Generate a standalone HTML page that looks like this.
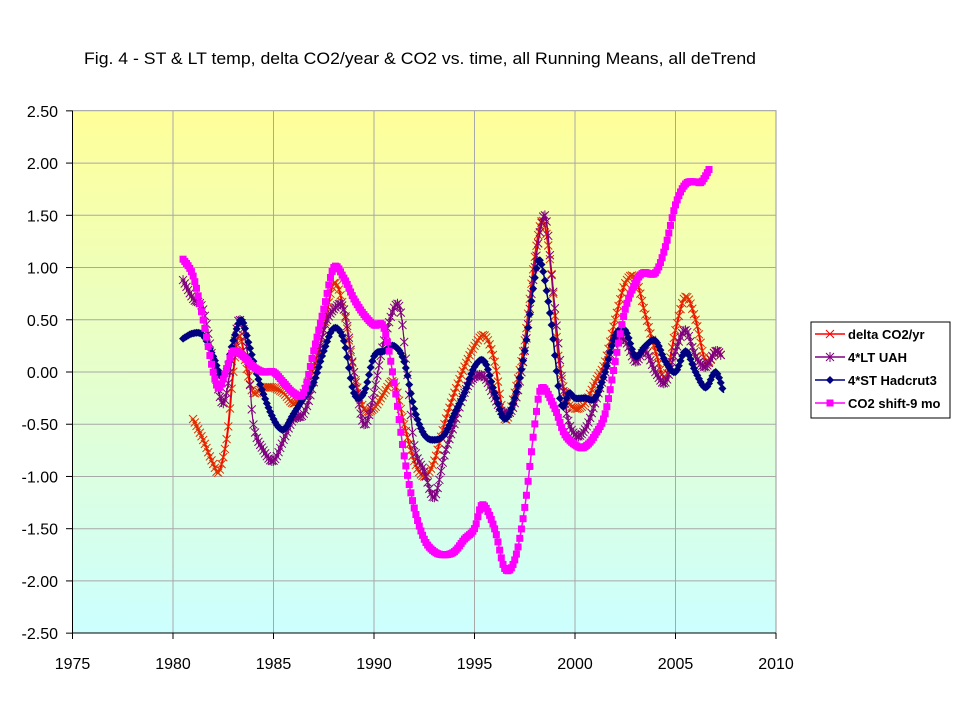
<!DOCTYPE html>
<html><head><meta charset="utf-8"><style>
body{margin:0;background:#fff;}
svg{display:block;font-family:"Liberation Sans",Arial,sans-serif;}
</style></head><body>
<svg id="chart" width="960" height="720" viewBox="0 0 960 720">
<defs><linearGradient id="bg" x1="0" y1="0" x2="0" y2="1"><stop offset="0" stop-color="#ffff99"/><stop offset="1" stop-color="#ccffff"/></linearGradient></defs>
<text x="420" y="64" text-anchor="middle" font-size="17" textLength="672" lengthAdjust="spacingAndGlyphs">Fig. 4 - ST &amp; LT temp, delta CO2/year &amp; CO2 vs. time, all Running Means, all deTrend</text>
<rect x="72.5" y="110.7" width="703.5" height="522.3" fill="url(#bg)" stroke="#999"/>
<g id="grid"></g><g id="axes"></g><g id="series"></g>
<g>
<rect x="811" y="322" width="139" height="96" fill="#fff" stroke="#000"/>
<g id="legend-items"></g>
</g>
</svg>
<script>
const yTicks=[2.5,2,1.5,1,0.5,0,-0.5,-1,-1.5,-2,-2.5];
const xTicks=[1975,1980,1985,1990,1995,2000,2005,2010];
const co2Years=[1980.5,1981,1981.5,1982,1982.3,1982.7,1983,1983.5,1984,1984.5,1985,1985.5,1986,1986.5,1987,1987.5,1988,1988.5,1989,1989.5,1990,1990.5,1991,1991.5,1992,1992.5,1993,1993.5,1994,1994.5,1995,1995.4,1996,1996.5,1997,1997.5,1998,1998.35,1999,1999.5,2000.2,2000.6,2001,2001.5,2002,2002.5,2003,2003.4,2004,2004.5,2005,2005.5,2006,2006.3,2006.7];
const co2Vals=[1.08,0.92,0.5,0.0,-0.15,0.05,0.2,0.15,0.05,0.0,0.0,-0.1,-0.2,-0.2,0.2,0.6,1.0,0.9,0.7,0.55,0.45,0.42,-0.1,-0.8,-1.3,-1.6,-1.72,-1.75,-1.72,-1.6,-1.5,-1.27,-1.5,-1.88,-1.8,-1.3,-0.5,-0.15,-0.35,-0.6,-0.72,-0.7,-0.6,-0.4,0.1,0.6,0.85,0.95,0.95,1.2,1.6,1.8,1.82,1.82,1.95];
const dco2Years=[1981,1981.5,1982,1982.3,1982.7,1983,1983.3,1983.7,1984,1984.5,1985,1985.5,1986,1986.5,1987,1987.5,1988,1988.5,1989,1989.5,1990,1990.5,1991,1991.5,1992,1992.5,1993,1993.5,1994,1994.5,1995,1995.5,1996,1996.5,1997,1997.5,1998,1998.4,1998.8,1999.2,1999.6,2000,2000.5,2001,2001.5,2002,2002.5,2003,2003.5,2004,2004.5,2005,2005.5,2006,2006.5,2007,2007.3];
const dco2Vals=[-0.45,-0.65,-0.88,-0.95,-0.6,0.0,0.35,0.0,-0.2,-0.15,-0.15,-0.2,-0.3,-0.2,0.05,0.4,0.85,0.6,0.0,-0.35,-0.35,-0.2,-0.1,-0.5,-0.85,-1.0,-0.85,-0.5,-0.2,0.05,0.25,0.35,0.1,-0.45,-0.2,0.3,1.1,1.45,1.0,0.1,-0.25,-0.35,-0.3,-0.1,0.1,0.5,0.85,0.9,0.55,0.2,-0.05,0.4,0.72,0.5,0.1,0.2,0.15];
const uahYears=[1980.5,1981,1981.5,1982,1982.5,1983,1983.3,1983.7,1984,1984.5,1985,1985.5,1986,1986.5,1987,1987.5,1988,1988.5,1989,1989.5,1990,1990.5,1991.2,1991.6,1992,1992.5,1993,1993.5,1994,1994.5,1995,1995.5,1996,1996.5,1997,1997.5,1998,1998.5,1998.9,1999.5,2000,2000.5,2001,2001.5,2002,2002.5,2003,2003.5,2004,2004.5,2005,2005.5,2006,2006.5,2007,2007.3];
const uahVals=[0.88,0.7,0.6,0.1,-0.3,0.2,0.5,0.2,-0.5,-0.75,-0.85,-0.65,-0.45,-0.4,-0.1,0.4,0.6,0.6,0.0,-0.5,-0.2,0.3,0.65,0.1,-0.7,-0.95,-1.2,-0.8,-0.5,-0.2,-0.05,-0.05,-0.25,-0.4,-0.3,0.2,1.0,1.5,0.8,-0.3,-0.6,-0.55,-0.3,0.0,0.3,0.3,0.1,0.2,0.0,-0.1,0.2,0.4,0.15,0.05,0.2,0.15];
const hadYears=[1980.5,1981,1981.5,1982,1982.5,1983,1983.4,1983.8,1984.3,1985,1985.5,1986,1986.5,1987,1987.5,1988,1988.5,1989,1989.5,1990,1990.5,1991,1991.5,1992,1992.5,1993,1993.5,1994,1994.5,1995,1995.5,1996,1996.5,1997,1997.5,1998,1998.3,1998.8,1999.3,1999.7,2000,2000.5,2001,2001.5,2002,2002.5,2003,2003.5,2004,2004.5,2005,2005.5,2006,2006.5,2007,2007.4];
const hadVals=[0.32,0.37,0.35,0.15,-0.05,0.3,0.5,0.25,-0.1,-0.45,-0.55,-0.4,-0.25,-0.1,0.2,0.42,0.3,-0.2,-0.2,0.15,0.2,0.25,0.1,-0.35,-0.6,-0.65,-0.6,-0.4,-0.2,0.05,0.1,-0.2,-0.45,-0.25,0.2,0.9,1.05,0.5,-0.3,-0.2,-0.25,-0.25,-0.25,0.0,0.35,0.4,0.15,0.25,0.3,0.1,0.0,0.2,0.0,-0.15,0.0,-0.2];

const X=y=>72.5+(y-1975)*20.1;
const Y=v=>372-v*104.46;
const NS="http://www.w3.org/2000/svg";
function mk(tag,at,parent){const e=document.createElementNS(NS,tag);for(const k in at)e.setAttribute(k,at[k]);parent.appendChild(e);return e;}
const grid=document.getElementById('grid'),axes=document.getElementById('axes'),ser=document.getElementById('series');
yTicks.forEach(t=>{const y=Y(t);
 if(t>-2.5&&t<2.5){const g=mk('line',{x1:72.5,x2:776,y1:y,y2:y,stroke:'#a8a8a8','stroke-width':1},grid);}
 mk('line',{x1:66,x2:72.5,y1:y,y2:y,stroke:'#000'},axes);
 const tx=mk('text',{x:58,y:y+6,'text-anchor':'end','font-size':16},axes);tx.textContent=t.toFixed(2);
 
 
});
xTicks.forEach(t=>{const x=X(t);
 if(t>1975&&t<2010){const g=mk('line',{x1:x,x2:x,y1:110.7,y2:633,stroke:'#a8a8a8'},grid);}
 mk('line',{x1:x,x2:x,y1:633,y2:639,stroke:'#000'},axes);
 const tx=mk('text',{x:x,y:669,'text-anchor':'middle','font-size':16},axes);tx.textContent=t;
 
 
});
mk('line',{x1:72.5,x2:72.5,y1:110.7,y2:633,stroke:'#000'},axes);
mk('line',{x1:72.5,x2:776,y1:633,y2:633,stroke:'#000'},axes);

function segs(xs,vs){const p=xs.map((x,i)=>[X(x),Y(vs[i])]);const out=[];
 for(let i=0;i<p.length-1;i++){const p0=p[i-1]||p[i],p1=p[i],p2=p[i+1],p3=p[i+2]||p2;
 out.push([p1,[p1[0]+(p2[0]-p0[0])/6,p1[1]+(p2[1]-p0[1])/6],[p2[0]-(p3[0]-p1[0])/6,p2[1]-(p3[1]-p1[1])/6],p2]);}return out;}
function bez(s,t){const u=1-t;return [0,1].map(k=>u*u*u*s[0][k]+3*u*u*t*s[1][k]+3*u*t*t*s[2][k]+t*t*t*s[3][k]);}
function marker(type,x,y,col,g){
 if(type==='x'){mk('path',{d:`M${x-4},${y-4}L${x+4},${y+4}M${x-4},${y+4}L${x+4},${y-4}`,stroke:col,'stroke-width':1},g);}
 else if(type==='star'){mk('path',{d:`M${x-4},${y-4}L${x+4},${y+4}M${x-4},${y+4}L${x+4},${y-4}M${x},${y-5}L${x},${y+5}`,stroke:col,'stroke-width':1},g);}
 else if(type==='d'){mk('path',{d:`M${x},${y-4}L${x+4},${y}L${x},${y+4}L${x-4},${y}Z`,fill:col},g);}
 else {mk('rect',{x:x-3.5,y:y-3.5,width:7,height:7,fill:col},g);}
}
function series(name,xs,vs,col,w,type,mcol){
 const g=mk('g',{},ser);
 const S=segs(xs,vs);
 let d=`M${S[0][0][0]},${S[0][0][1]}`;S.forEach(s=>{d+=` C${s[1]} ${s[2]} ${s[3]}`;});
 mk('path',{d:d,fill:'none',stroke:col,'stroke-width':w},g);
 const dx=20.1/12;let next=S[0][0][0];
 S.forEach(s=>{for(let t=0;t<=1;t+=0.005){const p=bez(s,t);if(p[0]>=next){marker(type,p[0],p[1],mcol,g);next+=dx;}}});
}
series('delta-co2-series',dco2Years,dco2Vals,'#ff0000',2,'x','#e03000');
series('lt-uah-series',uahYears,uahVals,'#800080',1.2,'star','#800080');
series('st-hadcrut3-series',hadYears,hadVals,'#000080',1.5,'d','#000080');
series('co2-shift-series',co2Years,co2Vals,'#ff00ff',1.5,'s','#ff00ff');

const leg=document.getElementById('legend-items');
[['delta CO2/yr','#ff0000','x'],['4*LT UAH','#800080','star'],['4*ST Hadcrut3','#000080','d'],['CO2 shift-9 mo','#ff00ff','s']].forEach((it,i)=>{
 const y=334+i*23;const g=mk('g',{},leg);
 
 
 mk('line',{x1:815,x2:845,y1:y,y2:y,stroke:it[1],'stroke-width':1.5},g);
 marker(it[2],830,y,it[1],g);
 const t=mk('text',{x:848,y:y+5,'font-size':13,'font-weight':'bold'},g);t.textContent=it[0];
});
</script>
</body></html>
